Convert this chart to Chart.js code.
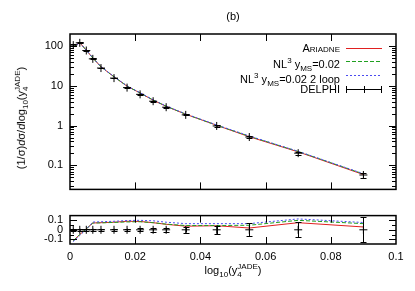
<!DOCTYPE html>
<html><head><meta charset="utf-8">
<script src="https://cdn.jsdelivr.net/npm/chart.js@4.4.1/dist/chart.umd.min.js"></script>
<style>
body{margin:0;width:415px;height:291px;background:#fff;position:relative;overflow:hidden;font-family:"Liberation Sans",Arial,sans-serif;color:#000}
.abs{position:absolute}
.ss{display:inline-block;vertical-align:-3px;line-height:8px;font-size:8px;text-align:left}
.ss span{display:block}
sub{font-size:8px}
.lt{position:absolute;right:75px;font-size:11px;white-space:nowrap;text-align:right;line-height:13px}
</style></head><body>
<canvas id="c1" width="415" height="203" class="abs" style="left:0;top:0"></canvas>
<canvas id="c2" width="415" height="89" class="abs" style="left:0;top:202px"></canvas>
<div class="abs" style="left:203px;top:10px;width:60px;text-align:center;font-size:11px">(b)</div>
<div class="abs" style="left:22px;top:118px;width:200px;margin-left:-100px;text-align:center;font-size:11px;transform:translate(0,-50%) rotate(-90deg);white-space:nowrap">(1/σ)<i>d</i>σ/<i>d</i>log<sub>10</sub>(y<span class="ss"><span>JADE</span><span>4</span></span>)</div>
<div class="abs" style="left:133px;top:263px;width:200px;text-align:center;font-size:11px;white-space:nowrap">log<sub>10</sub>(y<span class="ss"><span>JADE</span><span>4</span></span>)</div>
<div class="lt" style="top:42px;font-variant:small-caps">Ariadne</div>
<div class="lt" style="top:54px">NL<sup style="font-size:8px">3</sup> y<sub>MS</sub>=0.02</div>
<div class="lt" style="top:69px">NL<sup style="font-size:8px">3</sup> y<sub>MS</sub>=0.02 2 loop</div>
<div class="lt" style="top:83px">DELPHI</div>
<svg class="abs" style="left:0;top:0" width="415" height="291">
  <line x1="346" y1="48.5" x2="382" y2="48.5" stroke="#e02020" stroke-width="1"/>
  <line x1="346" y1="61.5" x2="382" y2="61.5" stroke="#20a020" stroke-width="1" stroke-dasharray="4 2"/>
  <line x1="346" y1="75.5" x2="382" y2="75.5" stroke="#4a4af0" stroke-width="1" stroke-dasharray="2 2"/>
  <line x1="346" y1="89.5" x2="382" y2="89.5" stroke="#000" stroke-width="1"/>
  <line x1="346.5" y1="86" x2="346.5" y2="93" stroke="#000" stroke-width="1"/>
  <line x1="381.5" y1="86" x2="381.5" y2="93" stroke="#000" stroke-width="1"/>
  <line x1="364.5" y1="86" x2="364.5" y2="93" stroke="#000" stroke-width="1"/>
</svg>
<script>
// ---- data ----
const xBins = [0.001,0.003,0.005,0.007,0.0095,0.0135,0.0175,0.0215,0.0255,0.0295,0.0355,0.045,0.055,0.07,0.09];
const delphi = [105,120,77,47.5,27.9,15.6,9.0,6.1,4.1,2.9,1.86,0.98,0.517,0.203,0.0575];
const delphiErr = [4,4,2.5,1.2,0.6,0.3,0.18,0.12,0.08,0.07,0.05,0.04,0.03,0.015,0.008];
const ariadne = [94,121,78,50,30,16.8,9.8,6.6,4.35,3.05,1.93,1.02,0.525,0.219,0.059];
const nl3 = [94,121,78,50,30,16.9,9.8,6.6,4.4,3.07,1.94,1.02,0.54,0.224,0.061];
const nl3loop = [93,121,78,50.5,30.3,17,9.9,6.7,4.45,3.1,1.97,1.04,0.55,0.226,0.062];
const ratioAriadne = [-0.115,-0.05,0.01,0.072,0.075,0.08,0.09,0.088,0.075,0.058,0.038,0.043,0.019,0.075,0.03];
const ratioNl3 = [-0.115,-0.05,0.01,0.072,0.073,0.078,0.083,0.085,0.075,0.06,0.045,0.045,0.048,0.1,0.065];
const ratioNl3loop = [-0.125,-0.06,0.005,0.082,0.085,0.09,0.098,0.1,0.095,0.08,0.065,0.065,0.065,0.115,0.077];
const ratioDelphi = [0,0,0,0,0,0,0,0,0,0,0,0,0,0,0];
const ratioErr = [0.012,0.01,0.01,0.01,0.01,0.01,0.012,0.015,0.018,0.022,0.03,0.045,0.068,0.08,0.13];
const xTicks = [0,0.02,0.04,0.06,0.08,0.1];
const yTicksMain = [0.1,1,10,100];
const yTicksRatio = [-0.1,0,0.1];

const RED='#e02020', GREEN='#20a020', BLUE='#4a4af0';
const pts = arr => xBins.map((x,i)=>({x, y:arr[i]}));
const FONT = {family:'"Liberation Sans", Arial, sans-serif', size:11};

const errPlugin = {
  id:'errbars',
  afterDatasetsDraw(chart){
    const ctx=chart.ctx, xs=chart.scales.x, ys=chart.scales.y;
    chart.data.datasets.forEach(ds=>{
      if(!ds.err) return;
      ctx.save(); ctx.strokeStyle='#000'; ctx.lineWidth=1;
      ds.data.forEach((p,i)=>{
        const px=Math.round(xs.getPixelForValue(p.x))+0.5;
        const y1=ys.getPixelForValue(p.y+ds.err[i]), y2=ys.getPixelForValue(p.y-ds.err[i]);
        ctx.beginPath();
        ctx.moveTo(px,y1);ctx.lineTo(px,y2);
        ctx.moveTo(px-3,Math.round(y1)+0.5);ctx.lineTo(px+3,Math.round(y1)+0.5);
        ctx.moveTo(px-3,Math.round(y2)+0.5);ctx.lineTo(px+3,Math.round(y2)+0.5);
        ctx.stroke();
      });
      ctx.restore();
    });
  }
};

const framePlugin = {
  id:'frame',
  afterDraw(chart, args, opts){
    const ctx=chart.ctx, a=chart.chartArea, xs=chart.scales.x, ys=chart.scales.y;
    ctx.save(); ctx.strokeStyle='#000'; ctx.lineWidth=1.5;
    ctx.strokeRect(a.left,a.top,a.right-a.left,a.bottom-a.top);
    ctx.lineWidth=1;
    ctx.beginPath();
    xTicks.forEach(v=>{
      if(v<=xs.min||v>=xs.max) return;
      const px=Math.round(xs.getPixelForValue(v))+0.5;
      ctx.moveTo(px,a.top);ctx.lineTo(px,a.top+7);
      ctx.moveTo(px,a.bottom);ctx.lineTo(px,a.bottom-7);
    });
    (opts.yMajor||[]).forEach(v=>{
      const py=Math.round(ys.getPixelForValue(v))+0.5;
      ctx.moveTo(a.left,py);ctx.lineTo(a.left+7,py);
      ctx.moveTo(a.right,py);ctx.lineTo(a.right-7,py);
    });
    (opts.yMinor||[]).forEach(v=>{
      if(v<=ys.min||v>=ys.max) return;
      const py=Math.round(ys.getPixelForValue(v))+0.5;
      ctx.moveTo(a.left,py);ctx.lineTo(a.left+4,py);
      ctx.moveTo(a.right,py);ctx.lineTo(a.right-4,py);
    });
    ctx.stroke(); ctx.restore();
  }
};

const minorLog=[];
[0.01,0.1,1,10,100].forEach(d=>{for(let k=2;k<=9;k++) minorLog.push(d*k);});

function lineDs(label,arr,color,dash,order){
  return {label,data:pts(arr),borderColor:color,borderWidth:1,borderDash:dash,pointRadius:0,fill:false,tension:0,order};
}
function dataDs(arr,err){
  return {label:'DELPHI',data:pts(arr),showLine:false,pointStyle:'cross',pointRadius:4,borderColor:'#000',borderWidth:1,err,order:1};
}
function yAxisCommon(ticksArr){
  return {
    grid:{display:false,drawTicks:false}, border:{display:false},
    ticks:{font:FONT,color:'#000',padding:7,autoSkip:false,callback:v=>String(+(+v).toFixed(3))},
    afterBuildTicks:s=>{s.ticks=ticksArr.map(v=>({value:v}));},
    afterFit:s=>{s.width=70;}
  };
}

new Chart(document.getElementById('c1'),{
  type:'line',
  data:{datasets:[
    lineDs('Ariadne',ariadne,RED,[],4),
    lineDs('NL3',nl3,GREEN,[4,2],3),
    lineDs('NL3 2 loop',nl3loop,BLUE,[2,2],2),
    dataDs(delphi,delphiErr)
  ]},
  options:{
    responsive:false,animation:false,devicePixelRatio:1,
    layout:{padding:{top:34,right:19,bottom:1,left:0}},
    plugins:{legend:{display:false},tooltip:{enabled:false},frame:{yMajor:yTicksMain,yMinor:minorLog}},
    scales:{
      x:{type:'linear',min:0,max:0.1,display:false},
      y:Object.assign({type:'logarithmic',min:0.025,max:200},yAxisCommon(yTicksMain))
    }
  },
  plugins:[errPlugin,framePlugin]
});

new Chart(document.getElementById('c2'),{
  type:'line',
  data:{datasets:[
    lineDs('Ariadne',ratioAriadne,RED,[],4),
    lineDs('NL3',ratioNl3,GREEN,[4,2],3),
    lineDs('NL3 2 loop',ratioNl3loop,BLUE,[2,2],2),
    dataDs(ratioDelphi,ratioErr)
  ]},
  options:{
    responsive:false,animation:false,devicePixelRatio:1,
    layout:{padding:{top:1,right:19,bottom:0,left:0}},
    plugins:{legend:{display:false},tooltip:{enabled:false},frame:{yMajor:yTicksRatio,yMinor:[-0.05,0.05]}},
    scales:{
      x:{type:'linear',min:0,max:0.1,
        grid:{display:false,drawTicks:false},border:{display:false},
        ticks:{font:FONT,color:'#000',padding:6,autoSkip:false,maxRotation:0,callback:v=>String(+(+v).toFixed(3))},
        afterBuildTicks:s=>{s.ticks=xTicks.map(v=>({value:v}));},
        afterFit:s=>{s.height=47;}
      },
      y:Object.assign({type:'linear',min:-0.15,max:0.15},yAxisCommon(yTicksRatio))
    }
  },
  plugins:[errPlugin,framePlugin]
});
</script>
</body></html>
